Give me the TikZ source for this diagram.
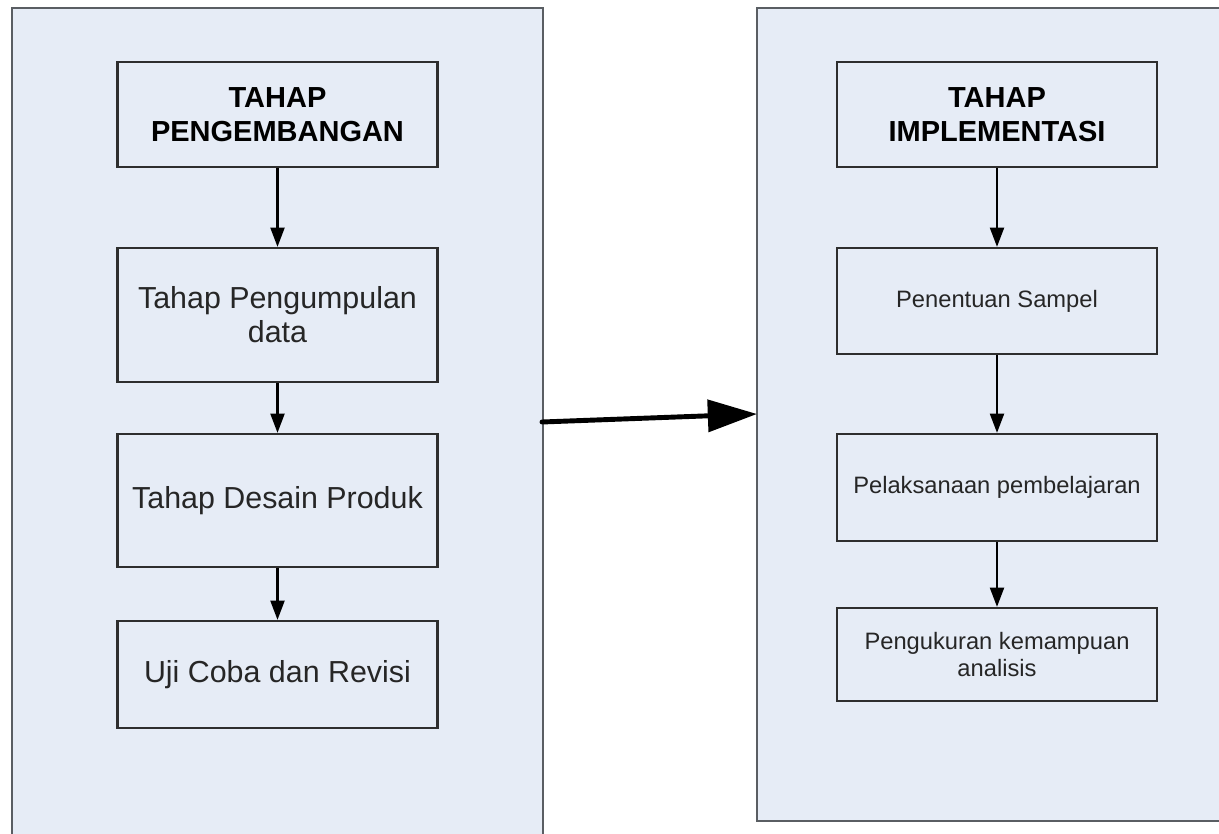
\documentclass[tikz,border=0pt]{standalone}
\usepackage{fontspec}
\setmainfont{Liberation Sans}
\usetikzlibrary{arrows.meta}

\begin{document}
\begin{tikzpicture}[x=0.02cm, y=-0.02cm, >=Triangle] % one unit = one pixel of the layout

    % Define colors for clarity
    \definecolor{panelfill}{HTML}{E6ECF6}
    \definecolor{contour}{HTML}{2E2E2E}
    \definecolor{panelline}{HTML}{5A5E63}

    % Styles for boxes and arrows
    \tikzset{
      tahap/.style={draw=contour, line width=1.3pt, fill=panelfill, align=center,
        minimum width=6.4cm, inner sep=2pt, text=black!85,
        font=\fontsize{17.3}{19.5}\selectfont},
      judul/.style={tahap, font=\fontsize{16.5}{19.5}\selectfont\bfseries, text=black},
      kecil/.style={tahap, font=\fontsize{13.5}{15.5}\selectfont},
      alur/.style={->, line width=1.2pt, black, >={Triangle[length=11pt, width=8pt]}},
      besar/.style={->, line width=2.8pt, black, line cap=round,
        >={Triangle[length=28pt, width=18pt]}}
    }

    % Page size
    \useasboundingbox (0,0) rectangle (1219,834);

    % Two large panels
    \draw[panelline, line width=0.9pt, fill=panelfill] (12,8) rectangle (543,850);
    \draw[panelline, line width=0.9pt, fill=panelfill] (757,8) rectangle (1240,821);

    % Left column: development
    \node[judul, minimum height=2.1cm]  (p1) at (277.5,114.5) {TAHAP\\PENGEMBANGAN};
    \node[tahap, minimum height=2.68cm] (p2) at (277.5,315)   {Tahap Pengumpulan\\data};
    \node[tahap, minimum height=2.66cm] (p3) at (277.5,500.5) {Tahap Desain Produk};
    \node[tahap, minimum height=2.14cm] (p4) at (277.5,674.5) {Uji Coba dan Revisi};

    % Right column: implementation
    \node[judul, minimum height=2.1cm]  (i1) at (997,114.5) {TAHAP\\IMPLEMENTASI};
    \node[kecil, minimum height=2.12cm] (i2) at (997,301)   {Penentuan Sampel};
    \node[kecil, minimum height=2.14cm] (i3) at (997,487.5) {Pelaksanaan pembelajaran};
    \node[kecil, minimum height=1.86cm] (i4) at (997,654.5) {Pengukuran kemampuan\\analisis};

    % Arrows inside the panels
    \draw[alur] (p1) -- (p2);
    \draw[alur] (p2) -- (p3);
    \draw[alur] (p3) -- (p4);
    \draw[alur] (i1) -- (i2);
    \draw[alur] (i2) -- (i3);
    \draw[alur] (i3) -- (i4);

    % Connection between the two panels
    \coordinate (kiri) at (542,422);
    \coordinate (kanan) at (757,414);
    \draw[besar] (kiri) -- (kanan);

\end{tikzpicture}
\end{document}
